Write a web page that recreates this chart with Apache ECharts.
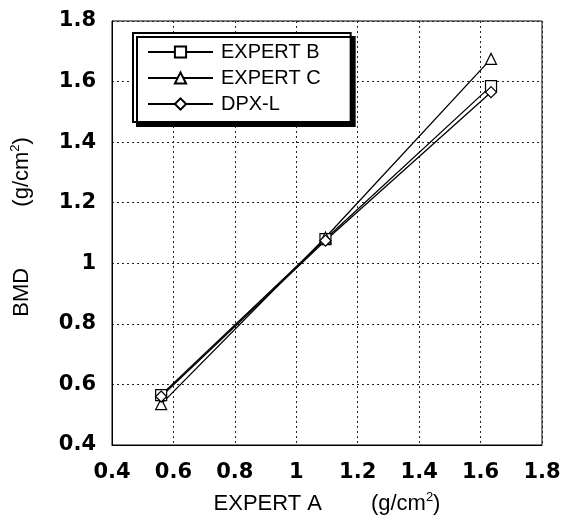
<!DOCTYPE html>
<html>
<head>
<meta charset="utf-8">
<script src="https://cdn.jsdelivr.net/npm/echarts@6/dist/echarts.min.js"></script>
<style>
  html, body { margin: 0; padding: 0; background: #fff; }
  #main { width: 569px; height: 519px; }
</style>
</head>
<body>
<div id="main"></div>
<script>
// data
const expertA = [0.56, 1.095, 1.634];
const expertB = [0.565, 1.08, 1.585];
const expertC = [0.535, 1.085, 1.675];
const dpxL = [0.56, 1.075, 1.565];
const seriesNames = ['EXPERT B', 'EXPERT C', 'DPX-L'];
const symbols = ['rect', 'triangle', 'diamond'];

const chart = echarts.init(document.getElementById('main'));

function pairs(ys) {
  return expertA.map((x, i) => [x, ys[i]]);
}

const font = 'Liberation Sans, Arial, sans-serif';
const tickFont = 'DejaVu Sans, sans-serif';

// rich styles for the (g/cm2) unit
const unitRich = {
  p: { fontFamily: font, fontSize: 22, color: '#000' },
  s: { fontFamily: font, fontSize: 13, color: '#000', verticalAlign: 'top', padding: [0, 0, 12, 0] }
};

const option = {
  backgroundColor: '#fff',
  animation: false,
  grid: {
    left: 112, right: 27, top: 21, bottom: 74,
    outerBoundsMode: 'none',
    show: true, borderColor: '#000', borderWidth: 1
  },
  legend: {
    orient: 'vertical',
    left: 133, top: 33,
    padding: [9, 30, 8, 14],
    itemWidth: 65, itemHeight: 14, itemGap: 6,
    backgroundColor: '#fff',
    borderColor: '#000', borderWidth: 2,
    shadowColor: '#000', shadowBlur: 0, shadowOffsetX: 4, shadowOffsetY: 4,
    textStyle: { fontFamily: font, fontSize: 20, color: '#000', padding: [0, 0, 0, 3] },
    data: seriesNames
  },
  xAxis: {
    type: 'value', min: 0.4, max: 1.8, interval: 0.2,
    name: '{p|EXPERT A        (g/cm}{s|2}{p|)}',
    nameLocation: 'middle', nameGap: 46,
    nameTextStyle: { rich: unitRich },
    axisLine: { lineStyle: { color: '#000' } },
    axisTick: { show: false },
    axisLabel: {
      fontFamily: tickFont, fontSize: 21, fontWeight: 'bold', color: '#000', margin: 17,
      formatter: v => String(Math.round(v * 10) / 10)
    },
    splitLine: { lineStyle: { color: '#222', type: [2, 3], width: 1 } }
  },
  yAxis: {
    type: 'value', min: 0.4, max: 1.8, interval: 0.2,
    name: '{p|  BMD          (g/cm}{s|2}{p|)}',
    nameLocation: 'middle', nameGap: 78, nameRotate: 90,
    nameTextStyle: { rich: unitRich },
    axisLine: { show: true, lineStyle: { color: '#000' } },
    axisTick: { show: false },
    axisLabel: {
      fontFamily: tickFont, fontSize: 21, fontWeight: 'bold', color: '#000', margin: 16,
      formatter: v => String(Math.round(v * 10) / 10)
    },
    splitLine: { lineStyle: { color: '#222', type: [2, 3], width: 1 } }
  },
  series: [expertB, expertC, dpxL].map((ys, i) => ({
    name: seriesNames[i],
    type: 'line',
    data: pairs(ys),
    symbol: symbols[i],
    symbolSize: 11,
    showAllSymbol: true,
    lineStyle: { color: '#000', width: 1.3 },
    itemStyle: { color: '#fff', borderColor: '#000', borderWidth: 1.2 }
  }))
};

chart.setOption(option);
</script>
</body>
</html>
